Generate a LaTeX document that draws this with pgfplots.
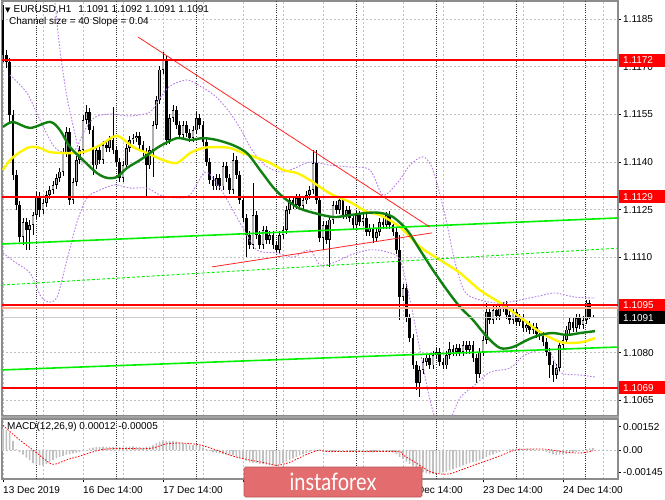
\documentclass[border=0pt]{standalone}
\usepackage{pgfplots}
\pgfplotsset{compat=1.18}
\usepackage{pgfplotstable}
\usepackage{fontspec}
\setmainfont{Liberation Sans}
\newfontfamily\symfont{DejaVu Sans}
\newfontfamily\wmfont{Lato}

\definecolor{mtred}{RGB}{255,0,0}
\definecolor{mtlime}{RGB}{0,240,0}
\definecolor{mtgreen}{RGB}{16,128,16}
\definecolor{mtyellow}{RGB}{255,245,0}
\definecolor{mtviolet}{RGB}{185,125,235}
\definecolor{mtgrid}{RGB}{192,192,192}
\definecolor{mtframe}{RGB}{140,140,140}
\definecolor{mtsalmon}{RGB}{255,170,140}
\definecolor{mtbody}{RGB}{175,175,175}
\definecolor{wmred}{RGB}{226,108,110}

\pgfplotstableread{
i o h l c
0 1.11846 1.11894 1.11714 1.11736
1 1.11736 1.11752 1.11696 1.11714
2 1.11714 1.11727 1.11526 1.11548
3 1.11548 1.11563 1.11343 1.11359
4 1.11359 1.11375 1.11249 1.11265
5 1.11265 1.11277 1.11148 1.11164
6 1.11164 1.11224 1.11139 1.11211
7 1.11211 1.11224 1.11123 1.11186
8 1.11186 1.11218 1.11123 1.11202
9 1.11202 1.11243 1.11170 1.11233
10 1.11233 1.11306 1.11221 1.11293
11 1.11293 1.11306 1.11227 1.11249
12 1.11249 1.11284 1.11236 1.11271
13 1.11271 1.11309 1.11258 1.11296
14 1.11296 1.11324 1.11284 1.11312
15 1.11312 1.11340 1.11299 1.11328
16 1.11328 1.11362 1.11315 1.11350
17 1.11350 1.11381 1.11337 1.11369
18 1.11369 1.11444 1.11356 1.11428
19 1.11428 1.11510 1.11416 1.11494
20 1.11494 1.11507 1.11265 1.11280
21 1.11280 1.11350 1.11268 1.11337
22 1.11337 1.11419 1.11324 1.11406
23 1.11406 1.11450 1.11394 1.11438
24 1.11438 1.11548 1.11425 1.11532
25 1.11532 1.11579 1.11519 1.11557
26 1.11557 1.11570 1.11488 1.11500
27 1.11500 1.11513 1.11359 1.11390
28 1.11390 1.11450 1.11378 1.11438
29 1.11438 1.11450 1.11394 1.11406
30 1.11406 1.11466 1.11394 1.11453
31 1.11453 1.11466 1.11431 1.11444
32 1.11444 1.11482 1.11431 1.11469
33 1.11469 1.11573 1.11425 1.11438
34 1.11438 1.11450 1.11387 1.11400
35 1.11400 1.11413 1.11337 1.11350
36 1.11350 1.11403 1.11337 1.11390
37 1.11390 1.11456 1.11378 1.11444
38 1.11444 1.11482 1.11431 1.11469
39 1.11469 1.11488 1.11456 1.11475
40 1.11475 1.11494 1.11463 1.11482
41 1.11482 1.11494 1.11441 1.11453
42 1.11453 1.11466 1.11419 1.11431
43 1.11431 1.11444 1.11290 1.11390
44 1.11390 1.11450 1.11378 1.11438
45 1.11438 1.11529 1.11353 1.11516
46 1.11516 1.11608 1.11504 1.11595
47 1.11595 1.11702 1.11582 1.11690
48 1.11690 1.11746 1.11677 1.11721
49 1.11721 1.11733 1.11453 1.11469
50 1.11469 1.11551 1.11456 1.11538
51 1.11538 1.11579 1.11526 1.11563
52 1.11563 1.11576 1.11504 1.11516
53 1.11516 1.11529 1.11472 1.11485
54 1.11485 1.11529 1.11472 1.11516
55 1.11516 1.11529 1.11479 1.11491
56 1.11491 1.11504 1.11463 1.11475
57 1.11475 1.11513 1.11463 1.11500
58 1.11500 1.11557 1.11488 1.11538
59 1.11538 1.11551 1.11504 1.11516
60 1.11516 1.11529 1.11450 1.11463
61 1.11463 1.11475 1.11387 1.11400
62 1.11400 1.11413 1.11331 1.11343
63 1.11343 1.11356 1.11312 1.11324
64 1.11324 1.11362 1.11312 1.11350
65 1.11350 1.11362 1.11312 1.11324
66 1.11324 1.11400 1.11312 1.11387
67 1.11387 1.11400 1.11337 1.11350
68 1.11350 1.11362 1.11299 1.11312
69 1.11312 1.11428 1.11299 1.11406
70 1.11406 1.11419 1.11346 1.11359
71 1.11359 1.11372 1.11268 1.11280
72 1.11280 1.11293 1.11211 1.11224
73 1.11224 1.11236 1.11101 1.11170
74 1.11170 1.11183 1.11126 1.11139
75 1.11139 1.11334 1.11126 1.11233
76 1.11233 1.11246 1.11158 1.11170
77 1.11170 1.11183 1.11126 1.11139
78 1.11139 1.11199 1.11126 1.11186
79 1.11186 1.11199 1.11142 1.11155
80 1.11155 1.11183 1.11142 1.11170
81 1.11170 1.11183 1.11126 1.11139
82 1.11139 1.11151 1.11114 1.11123
83 1.11123 1.11183 1.11111 1.11170
84 1.11170 1.11199 1.11158 1.11186
85 1.11186 1.11262 1.11173 1.11249
86 1.11249 1.11293 1.11236 1.11280
87 1.11280 1.11293 1.11252 1.11265
88 1.11265 1.11299 1.11252 1.11287
89 1.11287 1.11299 1.11249 1.11262
90 1.11262 1.11293 1.11249 1.11280
91 1.11280 1.11309 1.11268 1.11296
92 1.11296 1.11324 1.11284 1.11312
93 1.11312 1.11438 1.11299 1.11397
94 1.11397 1.11438 1.11268 1.11280
95 1.11280 1.11293 1.11148 1.11161
96 1.11161 1.11214 1.11123 1.11202
97 1.11202 1.11214 1.11142 1.11155
98 1.11155 1.11230 1.11070 1.11218
99 1.11218 1.11277 1.11205 1.11265
100 1.11265 1.11277 1.11236 1.11249
101 1.11249 1.11293 1.11236 1.11280
102 1.11280 1.11293 1.11221 1.11233
103 1.11233 1.11262 1.11221 1.11249
104 1.11249 1.11262 1.11211 1.11224
105 1.11224 1.11236 1.11189 1.11202
106 1.11202 1.11246 1.11189 1.11233
107 1.11233 1.11246 1.11199 1.11211
108 1.11211 1.11236 1.11199 1.11224
109 1.11224 1.11236 1.11167 1.11180
110 1.11180 1.11205 1.11167 1.11192
111 1.11192 1.11205 1.11145 1.11161
112 1.11161 1.11192 1.11148 1.11180
113 1.11180 1.11224 1.11167 1.11211
114 1.11211 1.11224 1.11189 1.11202
115 1.11202 1.11243 1.11189 1.11233
116 1.11233 1.11246 1.11189 1.11202
117 1.11202 1.11214 1.11167 1.11180
118 1.11180 1.11192 1.11111 1.11123
119 1.11123 1.11170 1.10903 1.10975
120 1.10975 1.11016 1.10963 1.11004
121 1.11004 1.11016 1.10897 1.10909
122 1.10909 1.10922 1.10834 1.10846
123 1.10846 1.10859 1.10749 1.10761
124 1.10761 1.10774 1.10683 1.10705
125 1.10705 1.10758 1.10661 1.10746
126 1.10746 1.10784 1.10733 1.10771
127 1.10771 1.10796 1.10758 1.10784
128 1.10784 1.10796 1.10749 1.10761
129 1.10761 1.10806 1.10749 1.10793
130 1.10793 1.10815 1.10780 1.10802
131 1.10802 1.10815 1.10758 1.10771
132 1.10771 1.10784 1.10749 1.10761
133 1.10761 1.10806 1.10749 1.10793
134 1.10793 1.10834 1.10780 1.10812
135 1.10812 1.10824 1.10790 1.10802
136 1.10802 1.10827 1.10790 1.10815
137 1.10815 1.10827 1.10790 1.10802
138 1.10802 1.10837 1.10790 1.10824
139 1.10824 1.10837 1.10796 1.10809
140 1.10809 1.10837 1.10796 1.10824
141 1.10824 1.10837 1.10771 1.10784
142 1.10784 1.10796 1.10705 1.10733
143 1.10733 1.10815 1.10721 1.10802
144 1.10802 1.10853 1.10790 1.10840
145 1.10840 1.10957 1.10827 1.10928
146 1.10928 1.10941 1.10891 1.10903
147 1.10903 1.10950 1.10891 1.10934
148 1.10934 1.10947 1.10903 1.10916
149 1.10916 1.10953 1.10903 1.10941
150 1.10941 1.10960 1.10928 1.10950
151 1.10950 1.10963 1.10906 1.10919
152 1.10919 1.10931 1.10891 1.10903
153 1.10903 1.10941 1.10891 1.10928
154 1.10928 1.10941 1.10884 1.10897
155 1.10897 1.10922 1.10884 1.10909
156 1.10909 1.10922 1.10865 1.10878
157 1.10878 1.10900 1.10865 1.10887
158 1.10887 1.10900 1.10859 1.10872
159 1.10872 1.10894 1.10859 1.10881
160 1.10881 1.10894 1.10846 1.10859
161 1.10859 1.10872 1.10840 1.10853
162 1.10853 1.10865 1.10821 1.10834
163 1.10834 1.10846 1.10790 1.10802
164 1.10802 1.10815 1.10721 1.10761
165 1.10761 1.10774 1.10708 1.10730
166 1.10730 1.10765 1.10717 1.10752
167 1.10752 1.10837 1.10739 1.10824
168 1.10824 1.10853 1.10812 1.10840
169 1.10840 1.10884 1.10827 1.10872
170 1.10872 1.10909 1.10859 1.10897
171 1.10897 1.10909 1.10865 1.10878
172 1.10878 1.10922 1.10865 1.10909
173 1.10909 1.10922 1.10875 1.10887
174 1.10887 1.10916 1.10875 1.10903
175 1.10903 1.10966 1.10891 1.10957
176 1.10957 1.10966 1.10906 1.10912
177 1.10912 1.10920 1.10910 1.10910
}\candles

\pgfplotstableread{
i m
0 0.00135
1 0.00130
2 0.00115
3 0.00060
4 0.00005
5 -0.00015
6 -0.00030
7 -0.00050
8 -0.00065
9 -0.00085
10 -0.00095
11 -0.00100
12 -0.00100
13 -0.00090
14 -0.00080
15 -0.00065
16 -0.00055
17 -0.00045
18 -0.00038
19 -0.00030
20 -0.00028
21 -0.00022
22 -0.00018
23 -0.00013
24 -0.00008
25 -0.00002
26 0.00010
27 0.00015
28 0.00018
29 0.00020
30 0.00022
31 0.00020
32 0.00018
33 0.00020
34 0.00022
35 0.00018
36 0.00016
37 0.00020
38 0.00022
39 0.00024
40 0.00020
41 0.00018
42 0.00016
43 0.00020
44 0.00022
45 0.00030
46 0.00045
47 0.00055
48 0.00062
49 0.00060
50 0.00058
51 0.00058
52 0.00055
53 0.00050
54 0.00045
55 0.00040
56 0.00035
57 0.00032
58 0.00030
59 0.00025
60 0.00015
61 0.00005
62 -0.00005
63 -0.00015
64 -0.00020
65 -0.00022
66 -0.00025
67 -0.00030
68 -0.00035
69 -0.00035
70 -0.00040
71 -0.00050
72 -0.00060
73 -0.00070
74 -0.00080
75 -0.00082
76 -0.00085
77 -0.00090
78 -0.00092
79 -0.00095
80 -0.00098
81 -0.00100
82 -0.00100
83 -0.00095
84 -0.00085
85 -0.00075
86 -0.00065
87 -0.00055
88 -0.00045
89 -0.00035
90 -0.00028
91 -0.00020
92 -0.00012
93 -0.00003
94 0.00000
95 -0.00005
96 -0.00010
97 -0.00012
98 -0.00012
99 -0.00010
100 -0.00008
101 -0.00008
102 -0.00010
103 -0.00010
104 -0.00012
105 -0.00012
106 -0.00010
107 -0.00012
108 -0.00014
109 -0.00014
110 -0.00016
111 -0.00016
112 -0.00014
113 -0.00012
114 -0.00012
115 -0.00012
116 -0.00014
117 -0.00016
118 -0.00025
119 -0.00045
120 -0.00060
121 -0.00075
122 -0.00090
123 -0.00105
124 -0.00120
125 -0.00135
126 -0.00145
127 -0.00150
128 -0.00155
129 -0.00155
130 -0.00152
131 -0.00150
132 -0.00145
133 -0.00140
134 -0.00132
135 -0.00125
136 -0.00118
137 -0.00110
138 -0.00100
139 -0.00092
140 -0.00085
141 -0.00078
142 -0.00075
143 -0.00068
144 -0.00058
145 -0.00045
146 -0.00035
147 -0.00028
148 -0.00020
149 -0.00012
150 -0.00005
151 0.00000
152 0.00005
153 0.00008
154 0.00010
155 0.00010
156 0.00008
157 0.00008
158 0.00006
159 0.00005
160 0.00003
161 0.00000
162 -0.00005
163 -0.00012
164 -0.00020
165 -0.00028
166 -0.00032
167 -0.00030
168 -0.00028
169 -0.00025
170 -0.00022
171 -0.00018
172 -0.00012
173 -0.00008
174 -0.00002
175 0.00005
176 0.00010
177 0.00012
}\macd

\newcommand\pricetag[3]{%
  \fill[#2] (axis cs:184.5,#1) ++(1pt,-6.5pt) rectangle ++(47pt,13pt);
  \node[anchor=west, text=white, inner sep=0pt, xshift=5pt] at (axis cs:184.5,#1) {#3};
}

\tikzset{
  mtgridstyle/.style={mtgrid, line width=0.7pt, dash pattern=on 2pt off 2pt},
  daysep/.style={black!80, line width=0.8pt, dash pattern=on 1pt off 1.2pt},
  band/.style={mtviolet, line width=0.9pt, dash pattern=on 1.6pt off 1.6pt},
}
\pgfplotsset{
  cdl/.style={draw=none, mark=none, forget plot,
    error bars/y dir=both, error bars/y explicit, error bars/error mark=none},
}

\begin{document}
\fontsize{10}{12}\selectfont
\begin{tikzpicture}[x=1pt,y=1pt]
\useasboundingbox (0,0) rectangle (665,499);
\fill[white] (0,0) rectangle (665,499);

% ---------------- main price panel ----------------
\begin{axis}[
  at={(2pt,83pt)}, anchor=south west,
  scale only axis, width=616pt, height=415pt,
  xmin=-0.3, xmax=184.5,
  ymin=1.106011, ymax=1.119063,
  clip mode=individual,
  axis line style={draw=mtframe, line width=1.2pt},
  xtick={0,12,...,180}, xticklabels={}, xtick style={draw=none},
  xmajorgrids,
  extra x ticks={10,34,58,82,106,130,154,174.6},
  extra x tick labels={},
  extra x tick style={grid=major, major grid style={daysep}},
  ytick={1.1065,1.1080,1.1095,1.1110,1.1125,1.1140,1.1155,1.1170,1.1185},
  yticklabels={1.1065,1.1080,1.1095,1.1110,1.1125,1.1140,1.1155,1.1170,1.1185},
  ytick pos=right, yticklabel pos=right,
  ymajorgrids,
  major grid style={mtgridstyle},
  tick align=outside, major tick length=3pt,
  ytick style={black, line width=0.7pt},
  yticklabel style={anchor=west, inner sep=0pt, xshift=2pt},
]
% wicks
\addplot[cdl, error bars/error bar style={draw=black, line width=0.8pt}]
  table[x=i, y expr={0.5*(\thisrow{h}+\thisrow{l})}, y error expr={0.5*(\thisrow{h}-\thisrow{l})}] {\candles};
% bearish bodies
\addplot[cdl, error bars/error bar style={draw=black, line width=2.6pt}]
  table[x=i, y expr={\thisrow{c}<\thisrow{o} ? 0.5*(\thisrow{o}+\thisrow{c}) : nan}, y error expr={0.5*abs(\thisrow{o}-\thisrow{c})}] {\candles};
% bullish bodies (outline + fill)
\addplot[cdl, error bars/error bar style={draw=black, line width=2.6pt}]
  table[x=i, y expr={\thisrow{c}>\thisrow{o} ? 0.5*(\thisrow{o}+\thisrow{c}) : nan}, y error expr={0.5*abs(\thisrow{o}-\thisrow{c})}] {\candles};
\addplot[cdl, error bars/error bar style={draw=mtbody, line width=1.1pt}]
  table[x=i, y expr={\thisrow{c}>\thisrow{o} ? 0.5*(\thisrow{o}+\thisrow{c}) : nan}, y error expr={max(0.5*abs(\thisrow{o}-\thisrow{c})-0.00002,0)}] {\candles};

% violet envelope bands
\addplot[band, smooth, forget plot] coordinates {
(2.1,1.11674) (7.2,1.11617) (11.1,1.11532) (15,1.11453) (18,1.11431) (21.6,1.11438) (24.6,1.11501) (27.6,1.11541) (32.1,1.11551) (38.1,1.11545) (44.1,1.11557) (47.1,1.11601) (50.1,1.11639) (55.2,1.11658) (59.1,1.11639) (63.6,1.11608) (67.5,1.11563) (71.1,1.11507) (74.7,1.11438) (78.6,1.11390) (83.1,1.11368) (87.6,1.11381) (92.1,1.11400) (98.1,1.11390) (104.1,1.11384) (110.1,1.11375) (114,1.11296) (118.5,1.11337) (122.1,1.11390) (126,1.11416) (129,1.11375) (132.6,1.11233) (135.6,1.11085) (138.6,1.10991) (143.1,1.10966) (149.1,1.10956) (155.1,1.10966) (161.1,1.10979) (165.6,1.10988) (171.6,1.10975) (177.6,1.10972)};
\addplot[band, smooth, forget plot] coordinates {
(0,1.11114) (3.6,1.11085) (8.1,1.11051) (11.1,1.10982) (13.5,1.10960) (16.2,1.10975) (19.2,1.11092) (22.2,1.11211) (25.2,1.11287) (29.1,1.11312) (33.6,1.11328) (38.1,1.11318) (43.2,1.11318) (47.1,1.11296) (51.6,1.11287) (56.1,1.11296) (60.6,1.11368) (64.5,1.11328) (68.1,1.11265) (72,1.11192) (76.2,1.11123) (82.2,1.11114) (87,1.11101) (92.1,1.11123) (95.1,1.11076) (99.6,1.11085) (104.1,1.11107) (110.1,1.11124) (115.2,1.11117) (119.1,1.11092) (122.1,1.10966) (125.1,1.10809) (128.1,1.10651) (131.1,1.10557) (134.1,1.10588) (137.1,1.10658) (141.6,1.10699) (146.1,1.10739) (152.1,1.10752) (156.6,1.10793) (163.5,1.10809) (167.1,1.10739) (173.1,1.10730) (177.6,1.10724)};
\addplot[band, smooth, forget plot] coordinates {
(15.6,1.11900) (17.1,1.11752) (19.2,1.11604) (22.2,1.11460) (23.7,1.11390)};

% moving averages
\addplot[mtyellow, line width=2.4pt, smooth, forget plot] coordinates {
(0,1.11375) (2.1,1.11406) (5.1,1.11431) (8.1,1.11447) (11.1,1.11444) (14.1,1.11431) (19.2,1.11428) (24,1.11431) (29.1,1.11453) (33,1.11479) (35.1,1.11479) (39,1.11447) (43.2,1.11428) (48,1.11406) (52.2,1.11397) (56.1,1.11428) (60,1.11444) (64.2,1.11447) (68.1,1.11444) (72,1.11428) (76.2,1.11413) (80.1,1.11397) (84,1.11375) (88.2,1.11365) (92.1,1.11343) (95.1,1.11321) (99,1.11296) (104.1,1.11274) (109.2,1.11243) (113.1,1.11233) (119.1,1.11195) (125.1,1.11133) (131.1,1.11092) (137.1,1.11051) (143.1,1.10997) (149.1,1.10957) (155.1,1.10912) (161.1,1.10865) (167.1,1.10834) (171,1.10831) (174,1.10834) (177.6,1.10846)};
\addplot[mtgreen, line width=2.4pt, smooth, forget plot] coordinates {
(0,1.11510) (3,1.11526) (8.1,1.11507) (14.1,1.11526) (17.1,1.11500) (20.1,1.11447) (24,1.11406) (28.2,1.11365) (31.2,1.11350) (34.2,1.11353) (37.2,1.11381) (41.1,1.11406) (44.1,1.11428) (47.1,1.11450) (52.2,1.11475) (56.1,1.11469) (60,1.11475) (64.2,1.11469) (69,1.11453) (73.2,1.11428) (77.1,1.11375) (81,1.11321) (84,1.11290) (88.2,1.11258) (92.1,1.11243) (99,1.11227) (104.1,1.11233) (109.2,1.11240) (113.1,1.11240) (117,1.11227) (121.2,1.11186) (125.1,1.11123) (129,1.11060) (133.2,1.10997) (137.1,1.10944) (141,1.10903) (145.2,1.10850) (149.1,1.10815) (153,1.10818) (157.2,1.10840) (161.1,1.10856) (165,1.10862) (169.2,1.10856) (173.1,1.10862) (177.6,1.10868)};

% regression channel
\addplot[mtlime, line width=1.6pt, forget plot] coordinates {(-0.3,1.11142) (184.5,1.11224)};
\addplot[mtlime, line width=1.6pt, forget plot] coordinates {(-0.3,1.10746) (184.5,1.10818)};
\addplot[mtlime, line width=0.9pt, dash pattern=on 3pt off 2pt, forget plot] coordinates {(-0.3,1.11013) (184.5,1.11129)};

% trend lines
\addplot[red!85!white, line width=0.8pt, forget plot] coordinates {(40.5,1.11793) (128.1,1.11195)};
\addplot[red!85!white, line width=0.8pt, forget plot] coordinates {(62.7,1.11070) (128.7,1.11177)};

% bid / ask lines
\addplot[gray!40, line width=1.2pt, forget plot] coordinates {(-0.3,1.1091) (184.5,1.1091)};
\addplot[mtsalmon, line width=1.6pt, forget plot] coordinates {(-0.3,1.10940) (184.5,1.10940)};

% horizontal levels
\addplot[mtred, line width=1.8pt, forget plot] coordinates {(-0.3,1.1172) (184.5,1.1172)};
\addplot[mtred, line width=1.8pt, forget plot] coordinates {(-0.3,1.1129) (184.5,1.1129)};
\addplot[mtred, line width=1.8pt, forget plot] coordinates {(-0.3,1.1095) (184.5,1.1095)};
\addplot[mtred, line width=1.8pt, forget plot] coordinates {(-0.3,1.1069) (184.5,1.1069)};

\pricetag{1.1172}{mtred}{1.1172}
\pricetag{1.1129}{mtred}{1.1129}
\pricetag{1.1095}{mtred}{1.1095}
\pricetag{1.1069}{mtred}{1.1069}
\pricetag{1.1091}{black}{1.1091}
\end{axis}

% separator between panels
\fill[mtframe!80] (1.4,80) rectangle (618.6,83);

% ---------------- MACD panel ----------------
\begin{axis}[
  at={(2pt,20pt)}, anchor=south west,
  scale only axis, width=616pt, height=60pt,
  xmin=-0.3, xmax=184.5,
  ymin=-0.001885, ymax=0.002015,
  scaled y ticks=false,
  clip mode=individual,
  axis line style={draw=mtframe, line width=1.2pt},
  xtick={0,24,...,168},
  xticklabels={13 Dec 2019,16 Dec 14:00,17 Dec 14:00,{},{},20 Dec 14:00,23 Dec 14:00,24 Dec 14:00},
  xtick pos=left,
  minor xtick={12,36,...,180},
  xmajorgrids, xminorgrids,
  extra x ticks={10,34,58,82,106,130,154,174.6},
  extra x tick labels={},
  extra x tick style={grid=major, major grid style={daysep}, major tick length=0pt},
  ytick={-0.00145,0,0.00152},
  yticklabels={-0.00145,0.00,0.00152},
  ytick pos=right, yticklabel pos=right,
  tick align=outside, major tick length=3pt, minor tick length=0pt,
  major grid style={mtgridstyle}, minor grid style={mtgridstyle},
  tick style={black, line width=0.7pt},
  xticklabel style={anchor=north west, inner sep=0pt, yshift=-4pt},
  yticklabel style={anchor=west, inner sep=0pt, xshift=2pt},
]
\draw[mtgridstyle] (axis cs:-0.3,0) -- (axis cs:184.5,0);
\addplot[ybar, bar width=1.6pt, fill=mtgrid, draw=none, forget plot] table[x=i, y=m] {\macd};
\addplot[red, line width=0.8pt, dash pattern=on 1.5pt off 1.5pt, smooth, forget plot] coordinates {
(0,0.00160) (5,0.00065) (9,0.0) (14,-0.00085) (16,-0.00090) (19,-0.00065) (24,-0.00033) (29,0.0) (34,0.00010) (44,0.00010) (49,0.00040) (54,0.00045) (59,0.00033) (64,0.0) (69,-0.00040) (74,-0.00065) (79,-0.00085) (82,-0.00100) (86,-0.00080) (91,-0.00030) (95,0.0) (98,-0.00010) (118,-0.00010) (120,-0.00033) (124,-0.00085) (128,-0.00140) (131,-0.00155) (134,-0.00155) (138,-0.00125) (143,-0.00085) (148,-0.00047) (153,-0.00005) (156,0.00005) (163,0.00005) (168,-0.00012) (173,-0.00020) (177,-0.00005)};
\end{axis}

% header texts
\node[anchor=west, inner sep=0pt] at (5,489) {{\symfont\fontsize{7}{8}\selectfont ▼}\hspace{3pt}EURUSD,H1\hspace{7pt}1.1091 1.1092 1.1091 1.1091};
\node[anchor=west, inner sep=0pt] at (9,477.5) {Channel size = 40 Slope = 0.04};
\node[anchor=west, inner sep=0pt] at (7,72) {MACD(12,26,9) 0.00012 -0.00005};

% watermark
\filldraw[fill=wmred, draw=wmred!80!black, line width=0.6pt, rounded corners=1.5pt] (244,2) rectangle (422,32);
\node[text=white, inner sep=0pt] at (333,17) {\wmfont\fontsize{20}{20}\selectfont\scalebox{1}[1.2]{instaforex}};
\end{tikzpicture}
\end{document}
